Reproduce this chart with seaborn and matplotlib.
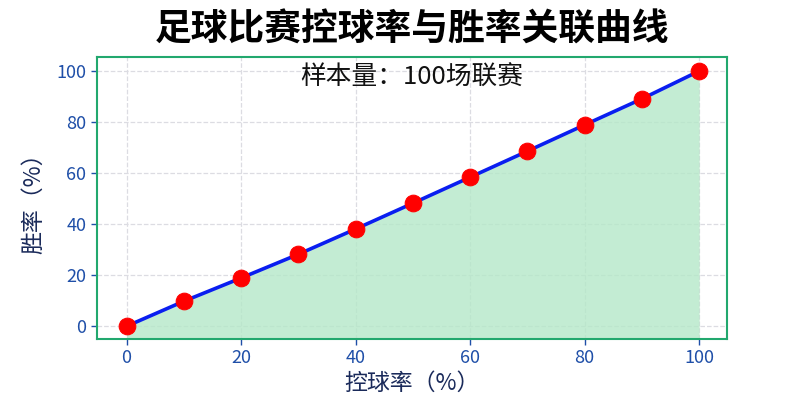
import matplotlib
matplotlib.use("Agg")
import matplotlib.pyplot as plt
import seaborn as sns
import pandas as pd

possession = [0, 10, 20, 30, 40, 50, 60, 70, 80, 90, 100]
win_rate = [0, 9.8, 18.9, 28.2, 38.1, 48.2, 58.4, 68.6, 78.9, 89.1, 100]
x_ticks = [0, 20, 40, 60, 80, 100]
y_ticks = [0, 20, 40, 60, 80, 100]

title = "足球比赛控球率与胜率关联曲线"
subtitle = "样本量：100场联赛"
xlabel = "控球率（%）"
ylabel = "胜率（%）"

sns.set_theme(style="whitegrid")
plt.rcParams['font.family'] = ['Noto Sans CJK SC', 'DejaVu Sans']
plt.rcParams['axes.unicode_minus'] = False

df = pd.DataFrame({"x": possession, "y": win_rate})

fig = plt.figure(figsize=(8, 4), dpi=100)
ax = fig.add_axes([0.121, 0.1525, 0.788, 0.705])
ax.set_xlim(-5.2, 104.9)
ax.set_ylim(-5, 105.5)

ax.fill_between(df["x"], df["y"], -5, color="#b5e8c8", alpha=0.8, zorder=1, linewidth=0)
sns.lineplot(data=df, x="x", y="y", ax=ax, color="#0a1ef0", linewidth=2.6,
             marker="o", markersize=12, markerfacecolor="#ff0000",
             markeredgecolor="#ff0000", zorder=3)

ax.set_xticks(x_ticks)
ax.set_yticks(y_ticks)
ax.grid(True, linestyle="--", color="#dcdce2", linewidth=0.9)
ax.set_axisbelow(True)
for s in ax.spines.values():
    s.set_visible(True)
    s.set_color("#22a86e")
    s.set_linewidth(1.5)

ax.tick_params(axis="both", colors="#1f4fa8", labelsize=13, length=4, width=1,
               bottom=True, left=True, direction="out")
for lab in ax.get_xticklabels() + ax.get_yticklabels():
    lab.set_color("#1f4fa8")

ax.set_xlabel(xlabel, fontsize=16.5, color="#1a2a5a", labelpad=3)
ax.set_ylabel(ylabel, fontsize=16.5, color="#1a2a5a", labelpad=8)

fig.text(0.515, 0.925, title, fontsize=26.5, fontweight="bold", color="black",
         ha="center", va="center")
ax.text(0.5, 0.927, subtitle, transform=ax.transAxes, ha="center", va="center",
        fontsize=18.5, color="#111111")

fig.savefig("out.png", dpi=100, facecolor="white")
